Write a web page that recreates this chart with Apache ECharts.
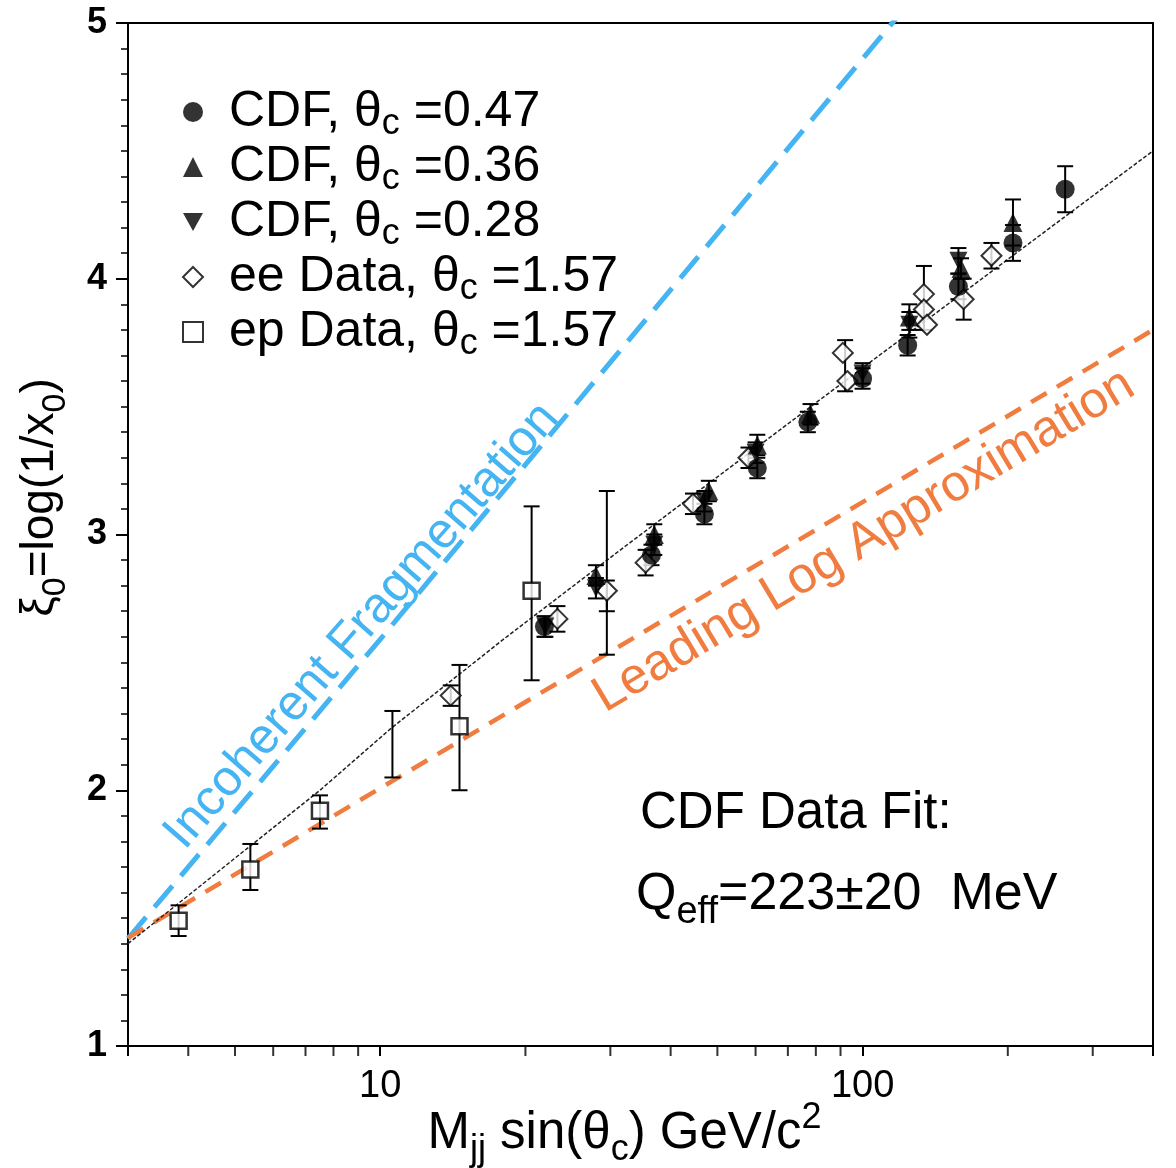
<!DOCTYPE html>
<html>
<head>
<meta charset="utf-8">
<script src="https://cdn.jsdelivr.net/npm/echarts@6/dist/echarts.min.js"></script>
<style>html,body{margin:0;padding:0;background:#fff;overflow:hidden}#c{width:1176px;height:1168px}</style>
</head>
<body>
<div id="c"></div>
<script>
// ---------- data ----------
const xMinorTicks = [4,5,6,7,8,9,20,30,40,50,60,70,80,90,200,300];

const cdf47X = [21.9, 36.5, 47, 60.5, 77, 100, 124, 158, 205, 263];
const cdf47Y = [2.64, 2.92, 3.08, 3.26, 3.44, 3.61, 3.74, 3.97, 4.14, 4.35];
const cdf47Err = [[21.9,2.60,2.68],[36.5,2.88,2.96],[47,3.04,3.12],[60.5,3.22,3.30],[77,3.40,3.48],[100,3.57,3.65],[124,3.70,3.78],[158,3.92,4.02],[205,4.07,4.21],[263,4.26,4.44]];

const cdf36X = [28, 37, 48, 60.5, 78, 125, 160, 205];
const cdf36Y = [2.84, 3.00, 3.17, 3.35, 3.47, 3.85, 4.04, 4.22];
const cdf36Err = [[28,2.80,2.88],[37,2.96,3.04],[48,3.13,3.21],[60.5,3.31,3.39],[78,3.43,3.51],[125,3.80,3.90],[160,4.00,4.08],[205,4.13,4.31]];

const cdf28X = [22, 28, 37, 47, 60, 100, 125, 158];
const cdf28Y = [2.64, 2.79, 2.96, 3.13, 3.32, 3.63, 3.82, 4.07];
const cdf28Err = [[22,2.60,2.68],[28,2.75,2.83],[37,2.92,3.00],[47,3.09,3.17],[60,3.28,3.36],[100,3.59,3.67],[125,3.77,3.87],[158,4.02,4.12]];

const eeX = [14.0, 23.3, 29.5, 35.5, 44.5, 58, 91, 93, 134, 134, 136, 162, 185];
const eeY = [2.37, 2.67, 2.78, 2.89, 3.12, 3.30, 3.71, 3.60, 3.94, 3.88, 3.82, 3.92, 4.09];
const eeErr = [[14.0,2.33,2.41],[23.3,2.62,2.72],[29.5,2.70,2.82],[29.5,2.53,3.17],[35.5,2.84,2.94],[44.5,3.08,3.16],[58,3.26,3.34],[92,3.56,3.76],[134,3.80,4.05],[162,3.84,4.00],[185,4.04,4.14]];

const epX = [3.82, 5.38, 7.5, 14.6, 20.6];
const epY = [1.49, 1.69, 1.92, 2.25, 2.78];
const epErr = [[3.82,1.43,1.55],[5.38,1.61,1.79],[7.5,1.85,1.98],[10.6,2.05,2.31],[14.6,2.00,2.49],[20.6,2.43,3.11]];

const fitX = [3, 7.5, 10.5, 18, 32, 82, 400];
const fitY = [1.40, 2.00, 2.24, 2.59, 2.95, 3.53, 4.50];

const incohX = [3, 10, 120];
const incohY = [1.42, 2.59, 5.04];

const llaX = [3, 18.5, 400];
const llaY = [1.423, 2.307, 3.80];

const xLabelTicks = [10, 100];

// ---------- helpers ----------
const FONT = '"Liberation Sans", Arial, Helvetica, sans-serif';
const zip = (a, b) => a.map((v, i) => [v, b[i]]);

function errRender(params, api) {
  const x = api.value(0), lo = api.value(1), hi = api.value(2);
  const p1 = api.coord([x, hi]), p2 = api.coord([x, lo]);
  const w = 8;
  const st = { stroke: '#000', lineWidth: 2 };
  return { type: 'group', children: [
    { type: 'line', shape: { x1: p1[0], y1: p1[1], x2: p2[0], y2: p2[1] }, style: st },
    { type: 'line', shape: { x1: p1[0] - w, y1: p1[1], x2: p1[0] + w, y2: p1[1] }, style: st },
    { type: 'line', shape: { x1: p2[0] - w, y1: p2[1], x2: p2[0] + w, y2: p2[1] }, style: st }
  ]};
}
function errSeries(data) {
  return { type: 'custom', renderItem: errRender, data: data, encode: { x: 0, y: [1, 2] }, z: 3, silent: true };
}

const N47 = 'CDF, θc =0.47', N36 = 'CDF, θc =0.36', N28 = 'CDF, θc =0.28', NEE = 'ee Data, θc =1.57', NEP = 'ep Data, θc =1.57';
const legendRich = {
  [N47]: '{t|CDF, θ}{s|c}{t| =0.47}',
  [N36]: '{t|CDF, θ}{s|c}{t| =0.36}',
  [N28]: '{t|CDF, θ}{s|c}{t| =0.28}',
  [NEE]: '{t|ee Data, θ}{s|c}{t| =1.57}',
  [NEP]: '{t|ep Data, θ}{s|c}{t| =1.57}'
};
const INV_TRI = 'path://M0,0 L10,0 L5,9 Z';

const chart = echarts.init(document.getElementById('c'), null, { renderer: 'canvas' });
chart.setOption({
  backgroundColor: '#fff',
  animation: false,
  textStyle: { fontFamily: FONT },
  grid: { left: 128, right: 23, top: 23, bottom: 122, containLabel: false, outerBoundsMode: 'none',
    show: true, borderColor: '#000', borderWidth: 2, backgroundColor: 'transparent' },
  xAxis: {
    type: 'log', logBase: 10, min: 3, max: 400,
    axisLine: { show: true, lineStyle: { color: '#000', width: 2 } },
    axisTick: { show: true, length: 10, lineStyle: { color: '#000', width: 2 } },
    splitLine: { show: false },
    axisLabel: {
      color: '#000', fontSize: 38, fontFamily: FONT, margin: 22,
      formatter: v => { const r = xLabelTicks.find(t => Math.abs(t - v) < 1e-6 * t); return r ? String(r) : ''; }
    },
    name: '{n|M}{s|jj}{n| sin(θ}{s|c}{n|) GeV/c}{p|2}',
    nameLocation: 'middle', nameGap: 54, nameMoveOverlap: false,
    nameTextStyle: {
      color: '#000', fontFamily: FONT, padding: [0, 32, 0, 0],
      rich: {
        n: { fontSize: 51, lineHeight: 56, fontFamily: FONT, color: '#000' },
        s: { fontSize: 36, lineHeight: 68, verticalAlign: 'bottom', fontFamily: FONT, color: '#000' },
        p: { fontSize: 36, lineHeight: 48, verticalAlign: 'top', fontFamily: FONT, color: '#000' }
      }
    }
  },
  yAxis: {
    type: 'value', min: 1, max: 5, interval: 1,
    axisLine: { show: true, lineStyle: { color: '#000', width: 2 } },
    axisTick: { show: true, length: 12, lineStyle: { color: '#000', width: 2 } },
    minorTick: { show: true, splitNumber: 10, length: 7, lineStyle: { color: '#000', width: 1.5 } },
    splitLine: { show: false },
    axisLabel: { color: '#000', fontSize: 36, fontWeight: 'bold', fontFamily: FONT, margin: 21 },
    name: '{n|ξ}{s|0}{n|=log(1/x}{s|0}{n|)}',
    nameLocation: 'middle', nameGap: 55, nameRotate: 90, nameMoveOverlap: false,
    nameTextStyle: {
      color: '#000', fontFamily: FONT, padding: [0, 0, 0, 74],
      rich: {
        n: { fontSize: 46, lineHeight: 54, fontFamily: FONT, color: '#000' },
        s: { fontSize: 34, lineHeight: 66, verticalAlign: 'bottom', fontFamily: FONT, color: '#000' }
      }
    }
  },
  legend: {
    orient: 'vertical', left: 177, top: 82, itemGap: 0, itemWidth: 20, itemHeight: 20,
    data: [
      { name: N47, icon: 'circle' },
      { name: N36, icon: 'triangle' },
      { name: N28, icon: INV_TRI },
      { name: NEE, icon: 'diamond' },
      { name: NEP, icon: 'rect' }
    ],
    formatter: n => legendRich[n],
    textStyle: {
      color: '#000', fontFamily: FONT, padding: [0, 0, 0, 21],
      rich: {
        t: { fontSize: 50, lineHeight: 50, fontFamily: FONT, color: '#000' },
        s: { fontSize: 36, lineHeight: 60, verticalAlign: 'bottom', fontFamily: FONT, color: '#000' }
      }
    }
  },
  series: [
    { name: 'fit', type: 'line', data: zip(fitX, fitY), showSymbol: false, symbol: 'none', z: 2, silent: true,
      lineStyle: { color: '#222', width: 1.5, type: [4, 2] } },
    { name: 'incoherent', type: 'line', data: zip(incohX, incohY), showSymbol: false, symbol: 'none', z: 1, silent: true, clip: true,
      lineStyle: { color: '#45b4f2', width: 5, type: [28, 13] } },
    { name: 'lla', type: 'line', data: zip(llaX, llaY), showSymbol: false, symbol: 'none', z: 1, silent: true,
      lineStyle: { color: '#f07c3f', width: 4.5, type: [18, 12] } },
    { name: 'xminor', type: 'scatter', data: xMinorTicks.map(x => [x, 1]), symbol: 'rect', symbolSize: [2, 10], symbolOffset: [0, 5],
      itemStyle: { color: '#000' }, silent: true, clip: false, z: 6 },
    errSeries(epErr), errSeries(eeErr), errSeries(cdf47Err), errSeries(cdf36Err), errSeries(cdf28Err),
    { name: NEP, type: 'scatter', data: zip(epX, epY), symbol: 'rect', symbolSize: 16, z: 4,
      itemStyle: { color: '#fff', borderColor: '#000', borderWidth: 2.5 } },
    { name: NEE, type: 'scatter', data: zip(eeX, eeY), symbol: 'diamond', symbolSize: 20, z: 4,
      itemStyle: { color: '#fff', borderColor: '#000', borderWidth: 2 } },
    { name: N47, type: 'scatter', data: zip(cdf47X, cdf47Y), symbol: 'circle', symbolSize: 19, z: 5,
      itemStyle: { color: '#000' } },
    { name: N36, type: 'scatter', data: zip(cdf36X, cdf36Y), symbol: 'triangle', symbolSize: 19, z: 5,
      itemStyle: { color: '#000' } },
    { name: N28, type: 'scatter', data: zip(cdf28X, cdf28Y), symbol: INV_TRI, symbolSize: 18, z: 5,
      itemStyle: { color: '#000' } }
  ],
  graphic: [
    { type: 'text', x: 362, y: 626, rotation: 49 * Math.PI / 180,
      style: { text: 'Incoherent Fragmentation', fill: '#45b4f2', font: '50px ' + FONT, align: 'center', verticalAlign: 'middle' }, z: 10 },
    { type: 'text', x: 864, y: 541, rotation: 31 * Math.PI / 180,
      style: { text: 'Leading Log Approximation', fill: '#f07c3f', font: '51px ' + FONT, align: 'center', verticalAlign: 'middle' }, z: 10 },
    { type: 'text', x: 640, y: 788,
      style: { text: 'CDF Data Fit:', fill: '#000', font: '51px ' + FONT, align: 'left', verticalAlign: 'top' }, z: 10 },
    { type: 'text', x: 636, y: 858,
      style: { text: '{n|Q}{s|eff}{n|=223±20  MeV}', fill: '#000', align: 'left', verticalAlign: 'top',
        rich: {
          n: { fontSize: 52, lineHeight: 60, fontFamily: FONT, fill: '#000' },
          s: { fontSize: 38, lineHeight: 74, verticalAlign: 'bottom', fontFamily: FONT, fill: '#000' }
        } }, z: 10 }
  ]
});
</script>
</body>
</html>
